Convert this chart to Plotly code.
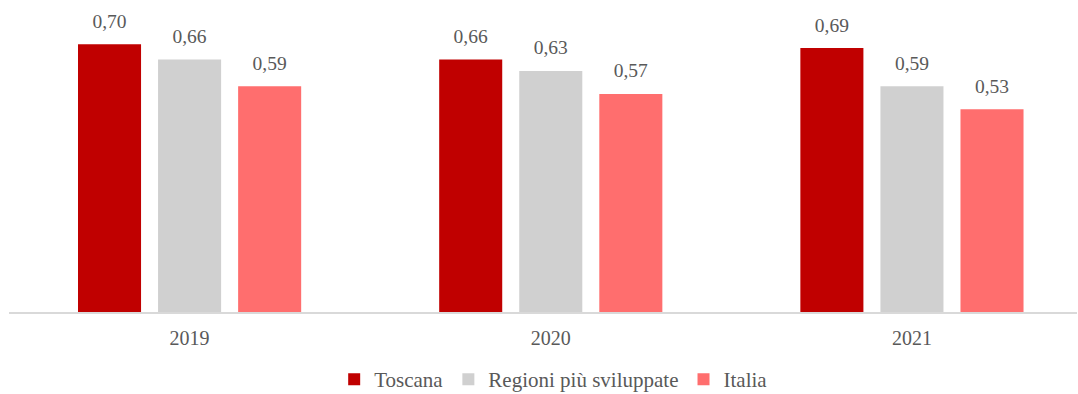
import plotly.graph_objects as go

years = ["2019", "2020", "2021"]
toscana = [0.70, 0.66, 0.69]
regioni = [0.66, 0.63, 0.59]
italia = [0.59, 0.57, 0.53]

series = [
    ("Toscana", toscana, "#C00000"),
    ("Regioni più sviluppate", regioni, "#D0D0D0"),
    ("Italia", italia, "#FF6E6E"),
]

font_family = "'Liberation Serif', 'Times New Roman', 'DejaVu Serif', serif"
text_color = "#595959"
label_lift = 0.025  # gap between a bar top and its value label, in data units


def fmt(v):
    return f"{v:.2f}".replace(".", ",")


fig = go.Figure()
for i, (name, vals, color) in enumerate(series):
    fig.add_trace(go.Bar(
        x=years, y=vals, name=name, offsetgroup=str(i),
        marker=dict(color=color, line=dict(width=0)),
        hovertemplate="%{x}: %{y:.2f}<extra>" + name + "</extra>",
    ))
    # transparent spacer sitting on each bar, carrying the value label above it
    fig.add_trace(go.Bar(
        x=years, y=[label_lift] * len(vals), base=vals, offsetgroup=str(i),
        marker=dict(color="rgba(0,0,0,0)", line=dict(width=0)),
        text=[fmt(v) for v in vals], textposition="outside",
        constraintext="none", cliponaxis=False,
        textfont=dict(family=font_family, size=19.5, color=text_color),
        showlegend=False, hoverinfo="skip",
    ))

fig.update_layout(
    width=1078, height=394,
    margin=dict(l=9, r=1, t=6, b=82, autoexpand=False),
    paper_bgcolor="white", plot_bgcolor="white",
    barmode="group", bargap=0.335, bargroupgap=0.2125,
    font=dict(family=font_family, size=20, color=text_color),
    showlegend=True,
    legend=dict(orientation="h", x=0.51, xanchor="center", y=-0.288, yanchor="bottom",
                font=dict(family=font_family, size=21, color=text_color),
                itemwidth=30, traceorder="normal"),
    xaxis=dict(type="category", range=[-0.5, 2.457], showgrid=False,
               showline=True, linecolor="#D9D9D9", linewidth=2,
               ticks="", ticklabelstandoff=7,
               tickfont=dict(family=font_family, size=20, color=text_color)),
    yaxis=dict(range=[0, 0.8], visible=False, showgrid=False, zeroline=False),
)

fig.write_html("out.html")
